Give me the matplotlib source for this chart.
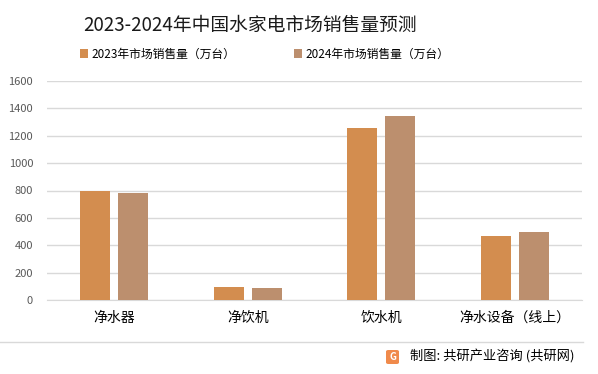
import numpy as np
from matplotlib import pyplot as plt
from matplotlib.patches import FancyBboxPatch
from matplotlib.lines import Line2D

plt.rcParams['font.family'] = ['Noto Sans CJK SC', 'DejaVu Sans']

categories = ['净水器', '净饮机', '饮水机', '净水设备（线上）']
sales_2023 = [795, 98, 1258, 467]
sales_2024 = [782, 90, 1345, 497]
labels = ['2023年市场销售量（万台）', '2024年市场销售量（万台）']
colors = ['#D38D4F', '#BC8F6E']

fig = plt.figure(figsize=(5.98, 3.74), dpi=100)
ax = fig.add_axes([47 / 598, 74 / 374, 535 / 598, 219 / 374])

x = np.arange(len(categories))
width = 0.224
off = 0.142
b1 = ax.bar(x - off, sales_2023, width, color=colors[0], zorder=3)
b2 = ax.bar(x + off, sales_2024, width, color=colors[1], zorder=3)

ax.set_xlim(-0.5, len(categories) - 0.5)
ax.set_ylim(0, 1600)
ax.set_yticks(np.arange(0, 1601, 200))
ax.yaxis.grid(True, color='#D9D9D9', linewidth=1)
ax.set_axisbelow(True)
for s in ['top', 'right', 'left']:
    ax.spines[s].set_visible(False)
ax.spines['bottom'].set_color('#D9D9D9')
ax.tick_params(axis='y', length=0, labelsize=8, labelcolor='#595959', pad=10)
ax.tick_params(axis='x', length=0, labelsize=10, labelcolor='#000000', pad=8)
ax.set_xticks(x)
ax.set_xticklabels(categories)

fig.text(83 / 598, 1 - 25 / 374, '2023-2024年中国水家电市场销售量预测', fontsize=13.5,
         va='center', ha='left', color='#1a1a1a')

# legend
leg = fig.legend([b1, b2], labels, loc='center left', bbox_to_anchor=(80 / 598, 1 - 54 / 374),
                 ncol=2, frameon=False, fontsize=8.5, handlelength=0.7, handleheight=0.7,
                 handletextpad=0.3, columnspacing=4.9, borderaxespad=0, borderpad=0)

# footer line
fig.add_artist(Line2D([0, 583 / 598], [1 - 342 / 374, 1 - 342 / 374], color='#D9D9D9', linewidth=1))

# logo + source
logo = FancyBboxPatch((386 / 598, 1 - 364 / 374), 13 / 598, 14 / 374,
                      boxstyle='round,pad=0,rounding_size=0.004', transform=fig.transFigure,
                      facecolor='#F08A4B', edgecolor='none')
fig.add_artist(logo)
fig.text(392.5 / 598, 1 - 357 / 374, 'G', fontsize=7, color='white', fontweight='bold',
         ha='center', va='center')
fig.text(410 / 598, 1 - 357 / 374, '制图: 共研产业咨询 (共研网)', fontsize=9.5,
         ha='left', va='center', color='#000000')

plt.savefig('out.png', dpi=100)
